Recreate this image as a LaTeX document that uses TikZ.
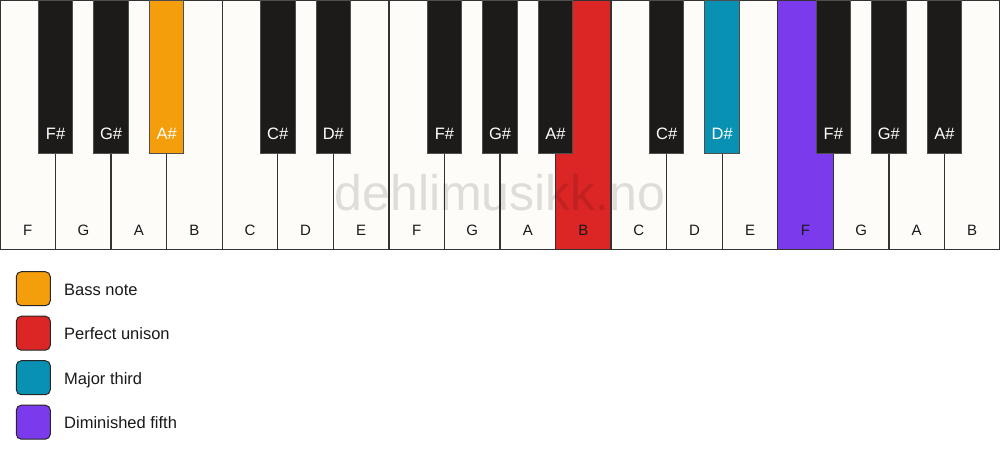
\documentclass[tikz,border=0pt]{standalone}
\usepackage{fontspec}
\setmainfont{Liberation Sans}
\definecolor{wkey}{HTML}{FDFCF9}
\definecolor{bkey}{HTML}{1C1B19}
\definecolor{edge}{HTML}{333333}
\definecolor{bedge}{HTML}{4E4E4E}
\definecolor{cbass}{HTML}{F59E0B}
\definecolor{cuni}{HTML}{DC2626}
\definecolor{cthird}{HTML}{0891B2}
\definecolor{cfifth}{HTML}{7C3AED}
\begin{document}
\begin{tikzpicture}[x=1pt,y=-1pt,
  whitekey/.style={draw=edge,line width=1.3pt,fill=wkey},
  blackkey/.style={draw=bedge,line width=1pt,fill=bkey},
  wlabel/.style={font=\fontsize{15}{15}\selectfont,text=black!90,anchor=base},
  blabel/.style={font=\fontsize{16.5}{16.5}\selectfont,text=white,anchor=base},
  legbox/.style={draw=black!85,line width=1pt,rounded corners=5pt,minimum width=34pt,minimum height=34pt,inner sep=0pt},
  legtext/.style={font=\fontsize{16.5}{16.5}\selectfont,text=black!90,anchor=base west,inner sep=0pt}]
\useasboundingbox (0,0) rectangle (1000,461);
\fill[white] (0,0) rectangle (1000,461);
\def\kw{55.5556}
% white keys
\foreach \n/\col [count=\i from 0] in {F/wkey,G/wkey,A/wkey,B/wkey,C/wkey,D/wkey,E/wkey,F/wkey,G/wkey,A/wkey,B/cuni,C/wkey,D/wkey,E/wkey,F/cfifth,G/wkey,A/wkey,B/wkey}{
  \draw[whitekey,fill=\col] ({\i*\kw},0.5) rectangle ({(\i+1)*\kw},249.5);
  \node[wlabel] (w\i) at ({(\i+0.5)*\kw},235.3) {\n};
}
% black keys
\foreach \b/\n/\col in {1/F\#/bkey,2/G\#/bkey,3/A\#/cbass,5/C\#/bkey,6/D\#/bkey,8/F\#/bkey,9/G\#/bkey,10/A\#/bkey,12/C\#/bkey,13/D\#/cthird,15/F\#/bkey,16/G\#/bkey,17/A\#/bkey}{
  \draw[blackkey,fill=\col] ({\b*\kw-17.25},0.5) rectangle ({\b*\kw+17.25},153);
  \node[blabel] (b\b) at ({\b*\kw},139) {\n};
}
% watermark
\node[font=\fontsize{50}{50}\selectfont,text=black,text opacity=0.12,anchor=base] (wm) at (500,210) {dehlimusikk.no};
% legend
\node[legbox,fill=cbass] (l1) at (33.3,288.7) {};
\node[legtext] (t1) at (64,295.3) {Bass note};
\node[legbox,fill=cuni] (l2) at (33.3,333.2) {};
\node[legtext] (t2) at (64,339.8) {Perfect unison};
\node[legbox,fill=cthird] (l3) at (33.3,377.7) {};
\node[legtext] (t3) at (64,384.3) {Major third};
\node[legbox,fill=cfifth] (l4) at (33.3,422.2) {};
\node[legtext] (t4) at (64,428.8) {Diminished fifth};
\end{tikzpicture}
\end{document}
